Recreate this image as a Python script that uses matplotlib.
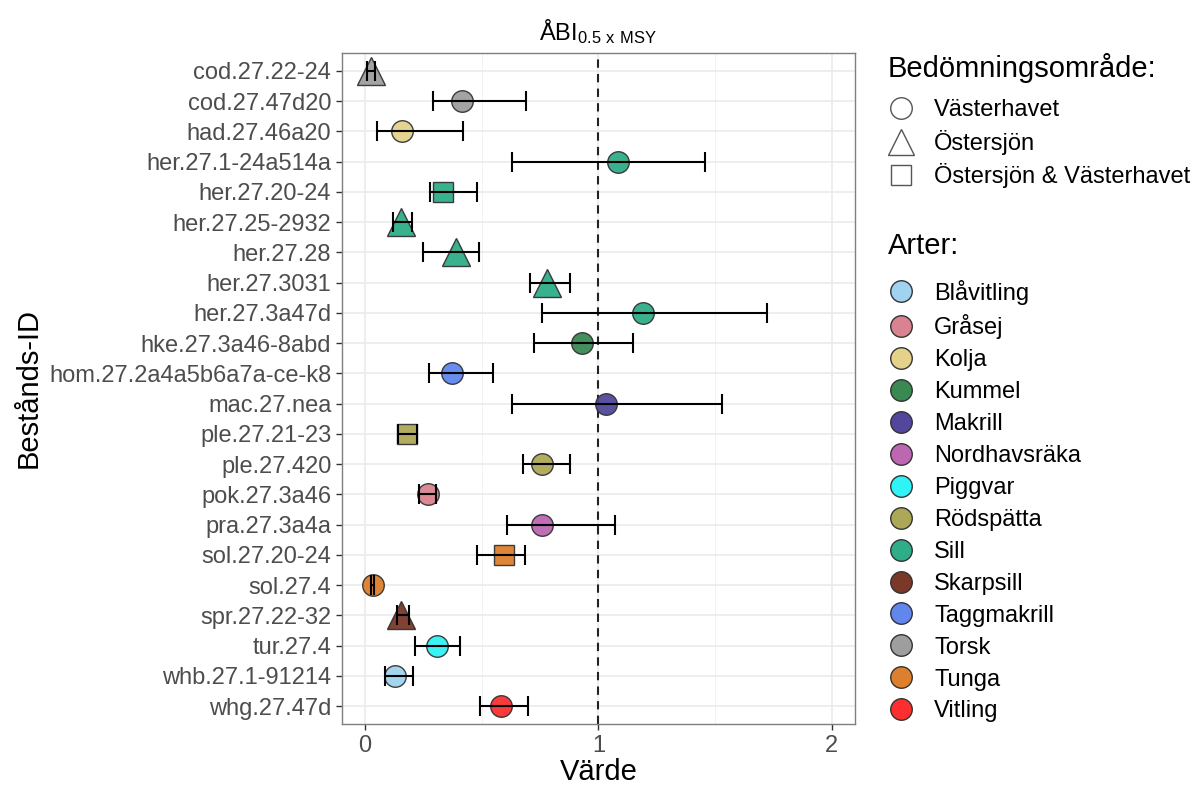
import matplotlib
matplotlib.use("Agg")
import matplotlib.pyplot as plt
from matplotlib.lines import Line2D
import numpy as np

plt.rcParams['font.family'] = ['Liberation Sans', 'DejaVu Sans']
plt.rcParams['mathtext.default'] = 'regular'

stocks = ["cod.27.22-24", "cod.27.47d20", "had.27.46a20", "her.27.1-24a514a", "her.27.20-24",
          "her.27.25-2932", "her.27.28", "her.27.3031", "her.27.3a47d", "hke.27.3a46-8abd",
          "hom.27.2a4a5b6a7a-ce-k8", "mac.27.nea", "ple.27.21-23", "ple.27.420", "pok.27.3a46",
          "pra.27.3a4a", "sol.27.20-24", "sol.27.4", "spr.27.22-32", "tur.27.4",
          "whb.27.1-91214", "whg.27.47d"]
values = [0.024, 0.417, 0.157, 1.086, 0.335, 0.154, 0.390, 0.780, 1.191, 0.928,
          0.374, 1.031, 0.181, 0.757, 0.269, 0.760, 0.594, 0.034, 0.155, 0.310,
          0.128, 0.581]
lower = [0.010, 0.290, 0.049, 0.631, 0.278, 0.121, 0.248, 0.709, 0.759, 0.726,
         0.272, 0.629, 0.143, 0.675, 0.229, 0.609, 0.481, 0.026, 0.138, 0.216,
         0.084, 0.491]
upper = [0.044, 0.689, 0.420, 1.459, 0.481, 0.199, 0.487, 0.878, 1.724, 1.147,
         0.548, 1.530, 0.221, 0.880, 0.302, 1.072, 0.686, 0.038, 0.187, 0.406,
         0.204, 0.700]
species = ["Torsk", "Torsk", "Kolja", "Sill", "Sill", "Sill", "Sill", "Sill", "Sill", "Kummel",
           "Taggmakrill", "Makrill", "Rödspätta", "Rödspätta", "Gråsej", "Nordhavsräka",
           "Tunga", "Tunga", "Skarpsill", "Piggvar", "Blåvitling", "Vitling"]
areas = ["Östersjön", "Västerhavet", "Västerhavet", "Västerhavet", "Östersjön & Västerhavet",
         "Östersjön", "Östersjön", "Östersjön", "Västerhavet", "Västerhavet",
         "Västerhavet", "Västerhavet", "Östersjön & Västerhavet", "Västerhavet", "Västerhavet",
         "Västerhavet", "Östersjön & Västerhavet", "Västerhavet", "Östersjön", "Västerhavet",
         "Västerhavet", "Västerhavet"]

species_order = ["Blåvitling", "Gråsej", "Kolja", "Kummel", "Makrill", "Nordhavsräka", "Piggvar",
                 "Rödspätta", "Sill", "Skarpsill", "Taggmakrill", "Torsk", "Tunga", "Vitling"]
species_colors = ["#9fd3ef", "#d8838f", "#e4d28b", "#3a8952", "#52479c", "#bd66b2", "#2ff3f6",
                  "#ada857", "#2fad88", "#7a3829", "#6187ef", "#9e9e9e", "#de7f2d", "#fb2f2f"]
area_order = ["Västerhavet", "Östersjön", "Östersjön & Västerhavet"]
area_markers = ["o", "^", "s"]
area_sizes = [15.5, 20, 14]

color_map = dict(zip(species_order, species_colors))
marker_map = dict(zip(area_order, area_markers))
size_map = dict(zip(area_order, area_sizes))

fig = plt.figure(figsize=(11.97, 7.85), dpi=100)
ax = fig.add_axes([0.2855, 0.0773, 0.7143 - 0.2855, 0.9329 - 0.0773])

y = np.arange(len(stocks))
for i in range(len(stocks)):
    ax.plot(values[i], y[i], marker=marker_map[areas[i]], markersize=size_map[areas[i]],
            markerfacecolor=color_map[species[i]], markeredgecolor="#333333",
            markeredgewidth=1.0, linestyle="none", alpha=0.95, zorder=3)
ax.errorbar(values, y, xerr=[np.array(values) - np.array(lower), np.array(upper) - np.array(values)],
            fmt="none", ecolor="black", elinewidth=1.5, capsize=7, capthick=1.5, zorder=4)
ax.axvline(1, color="#222222", linestyle=(0, (4, 3)), linewidth=1.5, zorder=2)

ax.set_xlim(-0.1, 2.1)
ax.set_ylim(len(stocks) - 1 + 0.6, -0.6)
ax.set_xticks([0, 1, 2])
ax.set_xticklabels(["0", "1", "2"])
ax.set_xticks([0.5, 1.5], minor=True)
ax.set_yticks(y)
ax.set_yticklabels(stocks)
ax.grid(True, which="major", color="#ebebeb", linewidth=1.2, zorder=0)
ax.grid(True, which="minor", axis="x", color="#f2f2f2", linewidth=0.7, zorder=0)
ax.set_axisbelow(True)
ax.tick_params(axis="both", which="major", labelsize=17, labelcolor="#4d4d4d",
               color="#333333", length=4, width=1)
ax.tick_params(axis="both", which="minor", length=0)
for s in ax.spines.values():
    s.set_color("#7f7f7f")
    s.set_linewidth(1.0)

ax.set_xlabel("Värde", fontsize=21, labelpad=1)
ax.set_ylabel("Bestånds-ID", fontsize=21, labelpad=5)
ax.set_title("ÅBI$_{0.5\\ x\\ MSY}$", fontsize=17, pad=9)

W, H = 1197.0, 785.0
fig.text(888 / W, 1 - 68 / H, "Bedömningsområde:", fontsize=21, ha="left", va="center")
fig.text(888 / W, 1 - 246 / H, "Arter:", fontsize=21, ha="left", va="center")

h1 = [Line2D([], [], marker=m, markersize=s, markerfacecolor="white", markeredgecolor="#555555",
             markeredgewidth=1.0, linestyle="none") for m, s in zip(area_markers, [15.5, 19, 14])]
fig.legend(h1, area_order, loc="center left", bbox_to_anchor=(0.733, 1 - 144 / H),
           frameon=False, fontsize=17, labelspacing=0.36, handlelength=1.2,
           handletextpad=0.8, borderaxespad=0)
h2 = [Line2D([], [], marker="o", markersize=15.5, markerfacecolor=c, markeredgecolor="#333333",
             markeredgewidth=1.0, linestyle="none") for c in species_colors]
fig.legend(h2, species_order, loc="center left", bbox_to_anchor=(0.733, 1 - 501 / H),
           frameon=False, fontsize=17, labelspacing=0.42, handlelength=1.2,
           handletextpad=0.8, borderaxespad=0)

fig.savefig("out.png", dpi=100)
